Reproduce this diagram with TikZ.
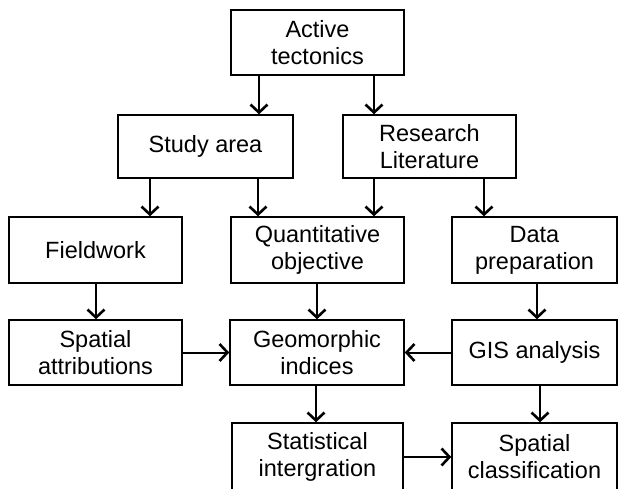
\documentclass[tikz,border=0pt]{standalone}
\usepackage{fontspec}
\setmainfont{Liberation Sans}
\usetikzlibrary{arrows.meta}
\begin{document}
\begin{tikzpicture}[x=1pt,y=-1pt,
  box/.style={draw, line width=1.4pt, align=center, inner sep=0pt,
    font=\fontsize{23.5}{27}\selectfont},
  arr/.style={line width=2pt, -{Straight Barb[length=8pt,width=17pt,line width=2.6pt]}}]
\useasboundingbox (0,0) rectangle (622,488);
\node[box, minimum width=173pt, minimum height=65pt] (act) at (317.5,42.5) {Active\\tectonics};
\node[box, minimum width=175pt, minimum height=63pt] (study) at (205.5,146.5) {Study area};
\node[box, minimum width=173pt, minimum height=63pt] (res) at (429.5,146.5) {Research\\Literature};
\node[box, minimum width=173pt, minimum height=66pt] (field) at (95.5,250) {Fieldwork};
\node[box, minimum width=173pt, minimum height=66pt] (quant) at (317.5,250) {Quantitative\\objective};
\node[box, minimum width=165pt, minimum height=66pt] (data) at (534.5,250) {Data\\preparation};
\node[box, minimum width=173pt, minimum height=65pt] (spat) at (95.5,352.5) {Spatial\\attributions};
\node[box, minimum width=174pt, minimum height=65pt] (geo) at (317,352.5) {Geomorphic\\indices};
\node[box, minimum width=165pt, minimum height=65pt] (gis) at (534.5,352.5) {GIS analysis};
\node[box, minimum width=171pt, minimum height=68pt] (stat) at (317.5,457) {Statistical\\intergration};
\node[box, minimum width=165pt, minimum height=68pt] (cls) at (534.5,457) {Spatial\\classification};
\draw[arr] (259,0 |- act.south) -- (259,0 |- study.north);
\draw[arr] (374,0 |- act.south) -- (374,0 |- res.north);
\draw[arr] (150,0 |- study.south) -- (150,0 |- field.north);
\draw[arr] (258,0 |- study.south) -- (258,0 |- quant.north);
\draw[arr] (374,0 |- res.south) -- (374,0 |- quant.north);
\draw[arr] (484,0 |- res.south) -- (484,0 |- data.north);
\draw[arr] (96,0 |- field.south) -- (96,0 |- spat.north);
\draw[arr] (317,0 |- quant.south) -- (317,0 |- geo.north);
\draw[arr] (537,0 |- data.south) -- (537,0 |- gis.north);
\draw[arr] (spat.east) -- (geo.west);
\draw[arr] (gis.west) -- (geo.east);
\draw[arr] (316,0 |- geo.south) -- (316,0 |- stat.north);
\draw[arr] (540,0 |- gis.south) -- (540,0 |- cls.north);
\draw[arr] (stat.east) -- (cls.west);
\end{tikzpicture}
\end{document}
